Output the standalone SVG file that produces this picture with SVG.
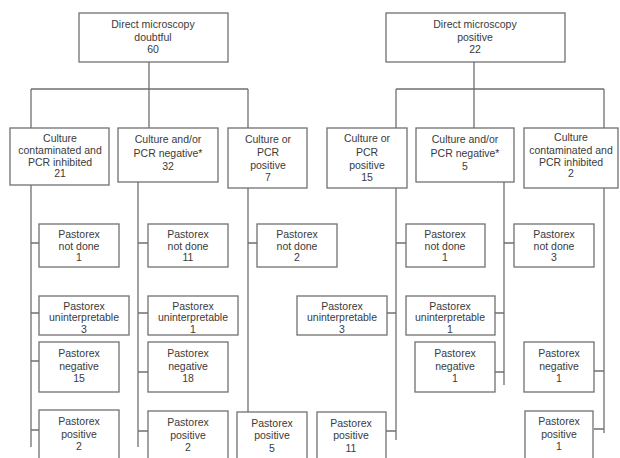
<svg xmlns="http://www.w3.org/2000/svg" width="620" height="458" viewBox="0 0 620 458">
<style>
.b{fill:#fff;stroke:#707070;stroke-width:1.3}
.t{font-family:"Liberation Sans",Arial,sans-serif;font-size:10.5px;fill:#3a3a3a;text-anchor:middle}
.c{fill:none;stroke:#707070;stroke-width:1.3}
</style>
<rect width="620" height="458" fill="#fff"/>
<g id="connectors">
<path class="c" d="M149 62V89M31 89H248M31 89V128M149 89V128M248 89V128"/>
<path class="c" d="M31 185V447M31 243H39M31 313H39M31 361H39M31 430H39"/>
<path class="c" d="M138 182V447M138 243H148M138 313H148M138 372H148M138 431H148"/>
<path class="c" d="M248 188V412M248 243H257"/>
<path class="c" d="M474 62V89M396 89H604M396 89V128M474 89V128M604 89V128"/>
<path class="c" d="M396 188V440M396 243H406M396 313H387M396 431H386"/>
<path class="c" d="M504 182V385M504 243H514M504 313H495M504 372H495"/>
<path class="c" d="M604 188V433M604 371H594M604 429H594"/>
</g>
<g id="dm-doubtful"><rect class="b" x="79" y="13" width="149" height="49"/><text class="t" x="153"><tspan x="153" y="28">Direct microscopy</tspan><tspan x="153" y="41">doubtful</tspan><tspan x="153" y="53">60</tspan></text></g>
<g id="dm-positive"><rect class="b" x="386" y="13" width="179" height="49"/><text class="t"><tspan x="475" y="28">Direct microscopy</tspan><tspan x="475" y="41">positive</tspan><tspan x="475" y="53">22</tspan></text></g>
<g id="l-contam"><rect class="b" x="10" y="128" width="99" height="57"/><text class="t"><tspan x="60" y="142">Culture</tspan><tspan x="60" y="154">contaminated and</tspan><tspan x="60" y="166">PCR inhibited</tspan><tspan x="60" y="177">21</tspan></text></g>
<g id="l-neg"><rect class="b" x="118" y="128" width="100" height="54"/><text class="t"><tspan x="168" y="143">Culture and/or</tspan><tspan x="168" y="157">PCR negative*</tspan><tspan x="168" y="170">32</tspan></text></g>
<g id="l-pos"><rect class="b" x="228" y="128" width="79" height="60"/><text class="t"><tspan x="268" y="143">Culture or</tspan><tspan x="268" y="156">PCR</tspan><tspan x="268" y="169">positive</tspan><tspan x="268" y="181">7</tspan></text></g>
<g id="r-pos"><rect class="b" x="327" y="128" width="80" height="60"/><text class="t"><tspan x="367" y="142">Culture or</tspan><tspan x="367" y="156">PCR</tspan><tspan x="367" y="169">positive</tspan><tspan x="367" y="181">15</tspan></text></g>
<g id="r-neg"><rect class="b" x="416" y="128" width="98" height="54"/><text class="t"><tspan x="465" y="143">Culture and/or</tspan><tspan x="465" y="157">PCR negative*</tspan><tspan x="465" y="170">5</tspan></text></g>
<g id="r-contam"><rect class="b" x="524" y="128" width="94" height="60"/><text class="t"><tspan x="571" y="141">Culture</tspan><tspan x="571" y="154">contaminated and</tspan><tspan x="571" y="166">PCR inhibited</tspan><tspan x="571" y="177">2</tspan></text></g>
<g id="a-nd"><rect class="b" x="39" y="224" width="80" height="43"/><text class="t"><tspan x="79" y="238">Pastorex</tspan><tspan x="79" y="250">not done</tspan><tspan x="79" y="261">1</tspan></text></g>
<g id="b-nd"><rect class="b" x="148" y="224" width="80" height="43"/><text class="t"><tspan x="188" y="238">Pastorex</tspan><tspan x="188" y="250">not done</tspan><tspan x="188" y="261">11</tspan></text></g>
<g id="c-nd"><rect class="b" x="257" y="224" width="80" height="43"/><text class="t"><tspan x="297" y="238">Pastorex</tspan><tspan x="297" y="250">not done</tspan><tspan x="297" y="261">2</tspan></text></g>
<g id="d-nd"><rect class="b" x="406" y="224" width="79" height="43"/><text class="t"><tspan x="445" y="238">Pastorex</tspan><tspan x="445" y="250">not done</tspan><tspan x="445" y="261">1</tspan></text></g>
<g id="e-nd"><rect class="b" x="514" y="224" width="80" height="43"/><text class="t"><tspan x="554" y="238">Pastorex</tspan><tspan x="554" y="250">not done</tspan><tspan x="554" y="261">3</tspan></text></g>
<g id="a-un"><rect class="b" x="39" y="296" width="90" height="39"/><text class="t"><tspan x="84" y="310">Pastorex</tspan><tspan x="84" y="321">uninterpretable</tspan><tspan x="84" y="333">3</tspan></text></g>
<g id="b-un"><rect class="b" x="148" y="296" width="90" height="39"/><text class="t"><tspan x="193" y="310">Pastorex</tspan><tspan x="193" y="321">uninterpretable</tspan><tspan x="193" y="333">1</tspan></text></g>
<g id="d-un"><rect class="b" x="297" y="296" width="90" height="39"/><text class="t"><tspan x="342" y="310">Pastorex</tspan><tspan x="342" y="321">uninterpretable</tspan><tspan x="342" y="333">3</tspan></text></g>
<g id="e-un"><rect class="b" x="406" y="296" width="89" height="39"/><text class="t"><tspan x="450" y="310">Pastorex</tspan><tspan x="450" y="321">uninterpretable</tspan><tspan x="450" y="333">1</tspan></text></g>
<g id="a-neg"><rect class="b" x="39" y="342" width="80" height="50"/><text class="t"><tspan x="79" y="357">Pastorex</tspan><tspan x="79" y="370">negative</tspan><tspan x="79" y="382">15</tspan></text></g>
<g id="b-neg"><rect class="b" x="148" y="342" width="80" height="50"/><text class="t"><tspan x="188" y="357">Pastorex</tspan><tspan x="188" y="370">negative</tspan><tspan x="188" y="382">18</tspan></text></g>
<g id="e-neg"><rect class="b" x="415" y="342" width="80" height="50"/><text class="t"><tspan x="455" y="357">Pastorex</tspan><tspan x="455" y="370">negative</tspan><tspan x="455" y="382">1</tspan></text></g>
<g id="f-neg"><rect class="b" x="524" y="342" width="70" height="50"/><text class="t"><tspan x="559" y="357">Pastorex</tspan><tspan x="559" y="370">negative</tspan><tspan x="559" y="382">1</tspan></text></g>
<g id="a-pos"><rect class="b" x="39" y="410" width="80" height="60"/><text class="t"><tspan x="79" y="425">Pastorex</tspan><tspan x="79" y="438">positive</tspan><tspan x="79" y="450">2</tspan></text></g>
<g id="b-pos"><rect class="b" x="148" y="411" width="80" height="60"/><text class="t"><tspan x="188" y="426">Pastorex</tspan><tspan x="188" y="439">positive</tspan><tspan x="188" y="451">2</tspan></text></g>
<g id="c-pos"><rect class="b" x="237" y="412" width="70" height="60"/><text class="t"><tspan x="272" y="427">Pastorex</tspan><tspan x="272" y="439">positive</tspan><tspan x="272" y="452">5</tspan></text></g>
<g id="d-pos"><rect class="b" x="317" y="412" width="69" height="60"/><text class="t"><tspan x="351" y="427">Pastorex</tspan><tspan x="351" y="439">positive</tspan><tspan x="351" y="452">11</tspan></text></g>
<g id="f-pos"><rect class="b" x="525" y="411" width="68" height="60"/><text class="t"><tspan x="559" y="425">Pastorex</tspan><tspan x="559" y="438">positive</tspan><tspan x="559" y="450">1</tspan></text></g>
</svg>
